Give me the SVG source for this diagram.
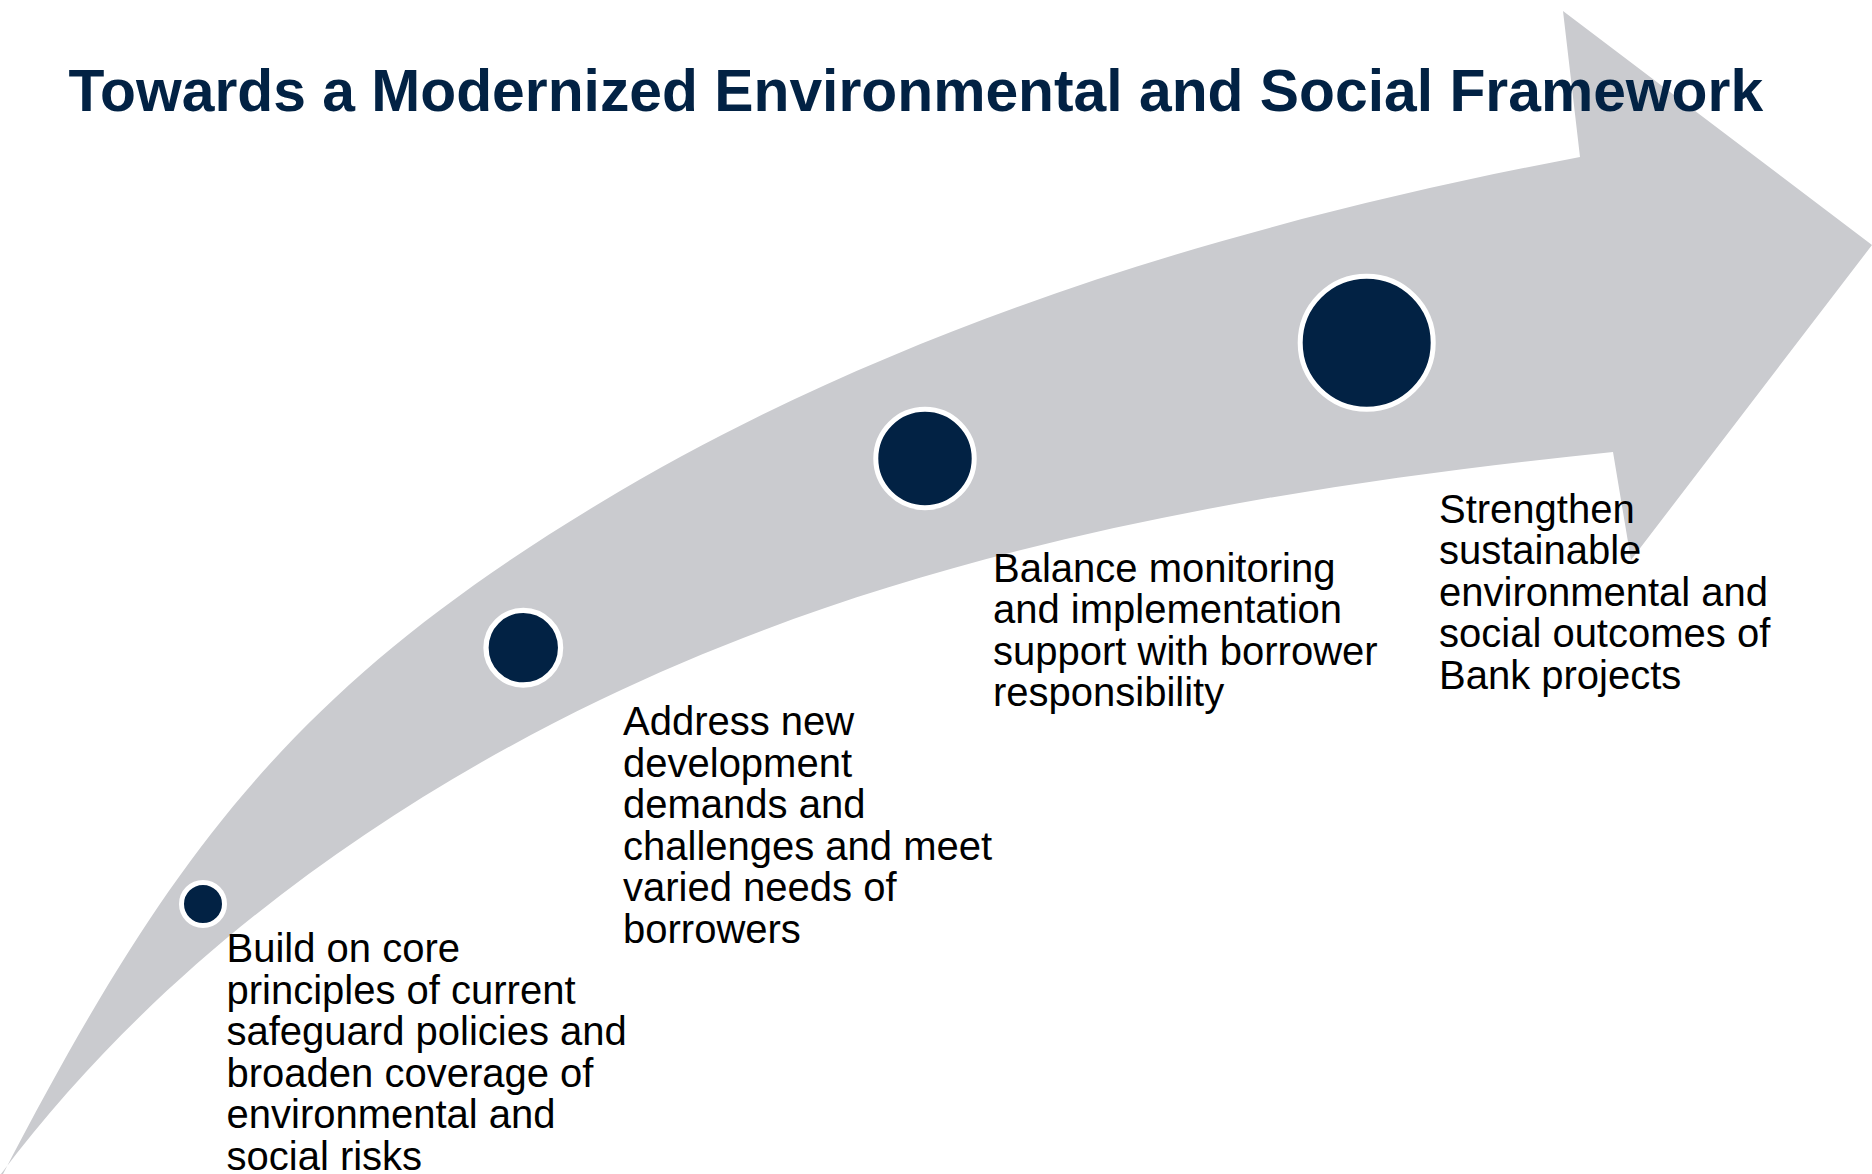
<svg xmlns="http://www.w3.org/2000/svg" width="1872" height="1174" viewBox="0 0 1872 1174">
<style>
.bg{fill:#ffffff}
.arrow{fill:#cacbcf}
.dot{fill:#022244;stroke:#ffffff}
.lbl{font-family:"Liberation Sans",Arial,sans-serif;font-size:40px;fill:#000000}
.title{font-family:"Liberation Sans",Arial,sans-serif;font-size:58.8px;font-weight:bold;fill:#022244}
</style>
<rect class="bg" x="0" y="0" width="1872" height="1174"/>
<g id="connectors">
<path id="arrow" class="arrow" d="M 3,1174 C 169,855 291.5,688.8 600,503 C 897,324 1239,222 1580,157 L 1563,11 L 1872,245 L 1631,560 L 1613,452 C 1268,487 912,549 600,700 C 370.5,810.7 153,970 -2,1178 Z"/>
</g>
<g id="title">
<text class="title" x="68.5" y="111">Towards a Modernized Environmental and Social Framework</text>
</g>
<g id="step1">
<circle class="dot" cx="203" cy="904" r="21.5" stroke-width="5"/>
<text class="lbl" x="226.5" y="962"><tspan x="226.5">Build on core</tspan><tspan x="226.5" dy="41.5">principles of current</tspan><tspan x="226.5" dy="41.5">safeguard policies and</tspan><tspan x="226.5" dy="41.5">broaden coverage of</tspan><tspan x="226.5" dy="41.5">environmental and</tspan><tspan x="226.5" dy="41.5">social risks</tspan></text>
</g>
<g id="step2">
<circle class="dot" cx="523.3" cy="647.7" r="37.3" stroke-width="5.3"/>
<text class="lbl" x="623" y="735"><tspan x="623">Address new</tspan><tspan x="623" dy="41.5">development</tspan><tspan x="623" dy="41.5">demands and</tspan><tspan x="623" dy="41.5">challenges and meet</tspan><tspan x="623" dy="41.5">varied needs of</tspan><tspan x="623" dy="41.5">borrowers</tspan></text>
</g>
<g id="step3">
<circle class="dot" cx="925" cy="458.5" r="49.2" stroke-width="5"/>
<text class="lbl" x="993" y="581.5"><tspan x="993">Balance monitoring</tspan><tspan x="993" dy="41.5">and implementation</tspan><tspan x="993" dy="41.5">support with borrower</tspan><tspan x="993" dy="41.5">responsibility</tspan></text>
</g>
<g id="step4">
<circle class="dot" cx="1366.7" cy="342.7" r="66.5" stroke-width="5"/>
<text class="lbl" x="1439" y="522.5"><tspan x="1439">Strengthen</tspan><tspan x="1439" dy="41.5">sustainable</tspan><tspan x="1439" dy="41.5">environmental and</tspan><tspan x="1439" dy="41.5">social outcomes of</tspan><tspan x="1439" dy="41.5">Bank projects</tspan></text>
</g>
</svg>
